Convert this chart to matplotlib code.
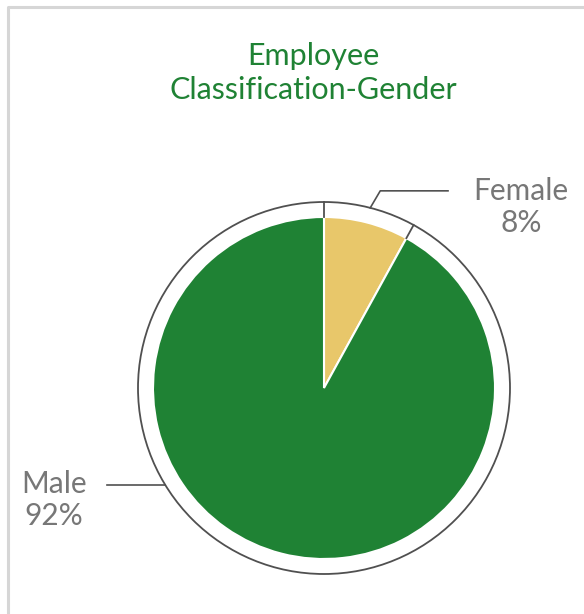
import numpy as np
import matplotlib.pyplot as plt
from matplotlib.patches import Circle

# data
labels = ['Female', 'Male']
shares = [8, 92]
colors = ['#E8C76A', '#1F8234']

title = 'Employee\nClassification-Gender'

fig = plt.figure(figsize=(5.84, 6.14), dpi=100)
ax = fig.add_axes([0, 0, 1, 1])
ax.set_xlim(0, 584)
ax.set_ylim(0, 614)
ax.set_aspect('equal')
ax.axis('off')

plt.rcParams['font.family'] = ['Lato', 'DejaVu Sans']

# outer frame (only top and left visible)
ax.plot([8, 8, 590], [-5, 607, 607], color='#d6d6d6', lw=2.2, clip_on=False)

cx, cy = 324, 226
r_pie, r_ring = 171, 186

ax.pie(shares, colors=colors, startangle=90, counterclock=False,
       center=(cx, cy), radius=r_pie, frame=True,
       wedgeprops=dict(edgecolor='white', linewidth=1.5))
ax.set_xlim(0, 584)
ax.set_ylim(0, 614)
ax.axis('off')

ax.add_patch(Circle((cx, cy), r_ring, fill=False, edgecolor='#505050', lw=1.3))

# small ticks at slice boundaries
bounds = 90 - 360 * np.cumsum([0] + shares[:-1]) / 100
for a in bounds:
    t = np.deg2rad(a)
    ax.plot([cx + r_pie * np.cos(t), cx + r_ring * np.cos(t)],
            [cy + r_pie * np.sin(t), cy + r_ring * np.sin(t)],
            color='#505050', lw=1.3)

# leader lines
ang_f = np.deg2rad(90 - 360 * shares[0] / 200)
px, py = cx + r_ring * np.cos(ang_f), cy + r_ring * np.sin(ang_f)
ax.plot([px, px + 10, 448], [py, py + 17, py + 17], color='#505050', lw=1.2)
ax.text(521, 407, labels[0] + '\n' + f'{shares[0]}%', ha='center',
        va='center', fontsize=21.5, color='#777777', linespacing=1.15)

ang_m = np.deg2rad(211.5)
mx, my = cx + r_ring * np.cos(ang_m), cy + r_ring * np.sin(ang_m)
ax.plot([107, mx], [my, my], color='#505050', lw=1.2)
ax.text(54, 114, labels[1] + '\n' + f'{shares[1]}%', ha='center',
        va='center', fontsize=21.5, color='#777777', linespacing=1.15)

ax.text(313, 541, title, ha='center', va='center', fontsize=22,
        color='#1F8234', linespacing=1.22)

fig.savefig('out.png', dpi=100)
